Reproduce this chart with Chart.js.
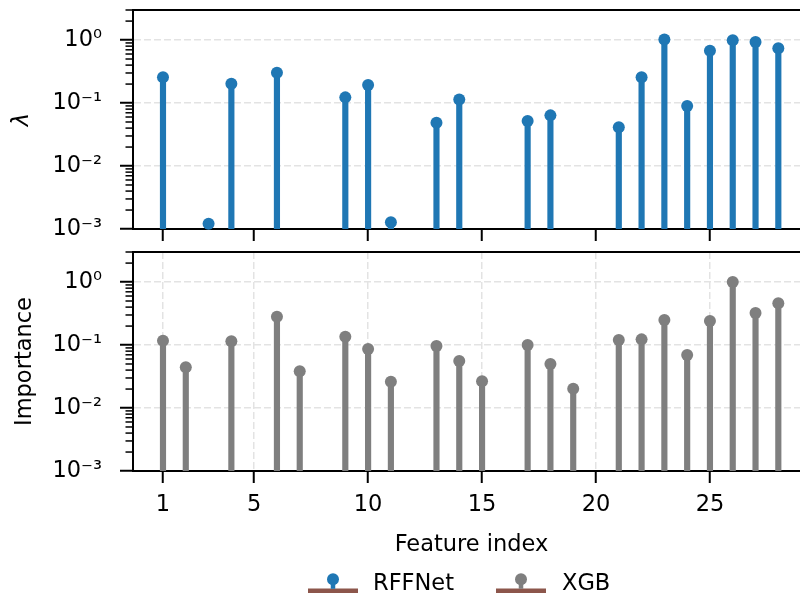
<!DOCTYPE html>
<html>
<head>
<meta charset="utf-8">
<script src="https://cdn.jsdelivr.net/npm/chart.js@4.4.1/dist/chart.umd.min.js"></script>
<style>
  html, body { margin: 0; padding: 0; background: #fff; overflow: hidden; }
  #wrap { position: relative; width: 800px; height: 599px; overflow: hidden; }
  canvas { position: absolute; left: 0; }
  #topChart { top: 0; }
  #bottomChart { top: 240px; }
</style>
</head>
<body>
<div id="wrap">
  <canvas id="topChart" width="810" height="245"></canvas>
  <canvas id="bottomChart" width="810" height="359"></canvas>
</div>
<script>
// values (log scale)
const rffFeatures = [1, 3, 4, 6, 9, 10, 11, 13, 14, 17, 18, 21, 22, 23, 24, 25, 26, 27, 28];
const rffLambda = [0.256, 0.00121, 0.203, 0.303, 0.123, 0.193, 0.00128, 0.0487, 0.114, 0.0518, 0.0637,
                   0.0411, 0.256, 1.02, 0.0896, 0.677, 0.99, 0.93, 0.738];
const xgbFeatures = [1, 2, 4, 6, 7, 9, 10, 11, 13, 14, 15, 17, 18, 19, 21, 22, 23, 24, 25, 26, 27, 28];
const xgbImportance = [0.117, 0.0443, 0.1145, 0.282, 0.0382, 0.1355, 0.0864, 0.0262, 0.0964, 0.0557, 0.0265,
                       0.1, 0.0499, 0.0203, 0.12, 0.123, 0.249, 0.0694, 0.240, 1.0, 0.322, 0.459];
const xTickValues = [1, 5, 10, 15, 20, 25];
const yTickValues = [1e-3, 1e-2, 1e-1, 1];
const seriesNames = ['RFFNet', 'XGB'];
const seriesColors = ['#1f77b4', '#7f7f7f'];

// axes run a little past the right edge of the picture
const X_MIN = -0.316, X_MAX = 29.39;
const Y_MIN = 1e-3, Y_MAX = 3;
const GRID = '#e3e3e3';
const FONT_SIZE = 22.5;

Chart.defaults.font.family = 'DejaVu Sans';
Chart.defaults.font.size = FONT_SIZE;
Chart.defaults.color = '#000';

const SUP = { '-': '\u207b', '0': '\u2070', '1': '\u00b9', '2': '\u00b2', '3': '\u00b3' };
function powLabel(v) {
    const e = Math.round(Math.log10(v));
    return '10' + String(e).split('').map(c => SUP[c]).join('');
}

// top spine + minor log ticks
const axisExtras = {
    id: 'axisExtras',
    afterDraw(chart) {
        const { ctx, chartArea: a } = chart;
        const y = chart.scales.y;
        ctx.save();
        ctx.strokeStyle = '#000';
        ctx.lineWidth = 2;
        ctx.beginPath();
        ctx.moveTo(a.left - 1, a.top);
        ctx.lineTo(a.right, a.top);
        ctx.stroke();
        ctx.lineWidth = 1.5;
        for (let e = -3; e <= 0; e++) {
            for (let m = 2; m <= 9; m++) {
                const v = m * Math.pow(10, e);
                if (v > y.max + 1e-9) continue;
                const py = y.getPixelForValue(v);
                ctx.beginPath();
                ctx.moveTo(a.left - 7.5, py);
                ctx.lineTo(a.left, py);
                ctx.stroke();
            }
        }
        ctx.restore();
    }
};

// stem-style legend handles under the lower panel
const stemLegend = {
    id: 'stemLegend',
    afterDraw(chart) {
        const ctx = chart.ctx;
        const items = [{ x: 308, tx: 373 }, { x: 496, tx: 562 }];
        ctx.save();
        items.forEach((it, i) => {
            const base = 350.8, top = 339.3, cx = it.x + 25;
            ctx.strokeStyle = '#8c564b';
            ctx.lineWidth = 4.5;
            ctx.beginPath();
            ctx.moveTo(it.x, base);
            ctx.lineTo(it.x + 50, base);
            ctx.stroke();
            ctx.strokeStyle = seriesColors[i];
            ctx.lineWidth = 4.5;
            ctx.beginPath();
            ctx.moveTo(cx, base - 2);
            ctx.lineTo(cx, top);
            ctx.stroke();
            ctx.fillStyle = seriesColors[i];
            ctx.beginPath();
            ctx.arc(cx, top, 6, 0, Math.PI * 2);
            ctx.fill();
            ctx.fillStyle = '#000';
            ctx.font = FONT_SIZE + 'px "DejaVu Sans"';
            ctx.textBaseline = 'middle';
            ctx.textAlign = 'left';
            ctx.fillText(seriesNames[i], it.tx, 344);
        });
        ctx.restore();
    }
};

function makeChart(id, idx, vals, color, yTitle, isBottom) {
    const ctx = document.getElementById(id).getContext('2d');
    const plugins = isBottom ? [axisExtras, stemLegend] : [axisExtras];
    return new Chart(ctx, {
        type: 'bar',
        data: {
            datasets: [
                {
                    type: 'bar',
                    data: idx.map((x, i) => ({ x: x, y: [Y_MIN, vals[i]] })),
                    backgroundColor: color,
                    barThickness: 5.5,
                    order: 2
                },
                {
                    type: 'line',
                    data: idx.map((x, i) => ({ x: x, y: vals[i] })),
                    showLine: false,
                    pointRadius: 6,
                    pointBackgroundColor: color,
                    pointBorderWidth: 0,
                    clip: false,
                    order: 1
                }
            ]
        },
        options: {
            responsive: false,
            animation: false,
            devicePixelRatio: 1,
            layout: {
                autoPadding: false,
                padding: isBottom ? { top: 12, left: 0, right: 0, bottom: 40.5 } : { top: 10, left: 0, right: 0, bottom: 0 }
            },
            plugins: { legend: { display: false }, tooltip: { enabled: false } },
            scales: {
                x: {
                    type: 'linear',
                    min: X_MIN,
                    max: X_MAX,
                    offset: false,
                    afterBuildTicks: s => { s.ticks = xTickValues.map(v => ({ value: v })); },
                    ticks: { display: isBottom, autoSkip: false, maxRotation: 0, padding: 8.5, callback: v => String(v) },
                    grid: { offset: false, drawOnChartArea: isBottom, color: GRID, lineWidth: 1.5,
                            tickColor: '#000', tickWidth: 2, tickLength: 12 },
                    border: { color: '#000', width: 2, dash: [7, 3] },
                    title: { display: isBottom, text: 'Feature index', padding: { top: 0, bottom: 0 } },
                    afterFit: s => { s.height = isBottom ? 87.5 : 16; s.paddingLeft = 0; s.paddingRight = 0; }
                },
                y: {
                    type: 'logarithmic',
                    min: Y_MIN,
                    max: Y_MAX,
                    afterBuildTicks: s => { s.ticks = yTickValues.map(v => ({ value: v })); },
                    ticks: { autoSkip: false, padding: 18, callback: v => powLabel(v) },
                    grid: { color: GRID, lineWidth: 1.5, tickColor: '#000', tickWidth: 2, tickLength: 13 },
                    border: { color: '#000', width: 2, dash: [7, 3] },
                    title: {
                        display: true,
                        text: yTitle,
                        font: isBottom ? { size: FONT_SIZE } : { size: FONT_SIZE, style: 'italic' },
                        padding: { top: isBottom ? 11.5 : 8.5, bottom: 0 }
                    },
                    afterFit: s => { s.width = 133; s.paddingTop = 0; s.paddingBottom = 0; }
                }
            }
        },
        plugins: plugins
    });
}

makeChart('topChart', rffFeatures, rffLambda, seriesColors[0], '\u03bb', false);
makeChart('bottomChart', xgbFeatures, xgbImportance, seriesColors[1], 'Importance', true);
</script>
</body>
</html>
